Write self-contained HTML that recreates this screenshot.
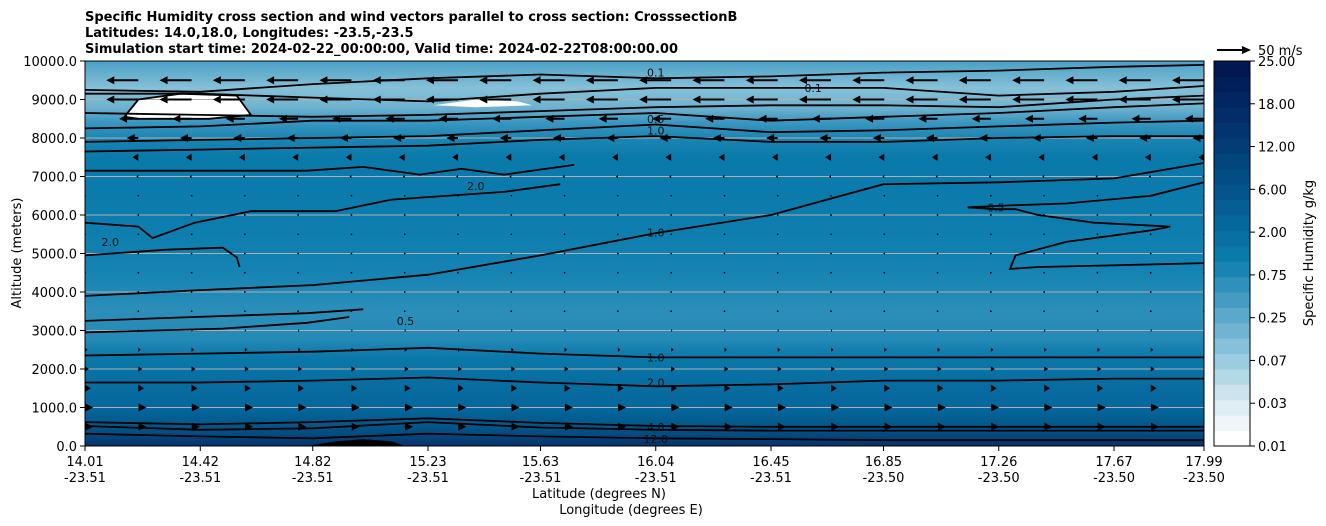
<!DOCTYPE html>
<html><head><meta charset="utf-8"><style>
body{margin:0;background:#fff;}
svg{display:block;font-family:"DejaVu Sans","Liberation Sans",sans-serif;}
</style></head><body>
<svg id="chart" width="1326" height="526" xmlns="http://www.w3.org/2000/svg">
<defs>
<linearGradient id="qfill" x1="0" y1="0" x2="0" y2="1">
<stop offset="0" stop-color="#4aa0c6"/>
<stop offset="0.07" stop-color="#86c0d8"/>
<stop offset="0.12" stop-color="#6fb3d0"/>
<stop offset="0.16" stop-color="#3a96c0"/>
<stop offset="0.20" stop-color="#1a85b3"/>
<stop offset="0.25" stop-color="#0a7aab"/>
<stop offset="0.40" stop-color="#0b7cad"/>
<stop offset="0.55" stop-color="#1583b3"/>
<stop offset="0.65" stop-color="#2c8fba"/>
<stop offset="0.72" stop-color="#258ab6"/>
<stop offset="0.77" stop-color="#0a78aa"/>
<stop offset="0.83" stop-color="#086ea2"/>
<stop offset="0.90" stop-color="#06679c"/>
<stop offset="0.94" stop-color="#045a8d"/>
<stop offset="0.97" stop-color="#034b80"/>
<stop offset="1" stop-color="#08306b"/>
</linearGradient>
<clipPath id="plotclip"><rect x="85" y="61" width="1119" height="385"/></clipPath>
</defs>
<g font-weight="bold" font-size="13">
<text x="85" y="21">Specific Humidity cross section and wind vectors parallel to cross section: CrosssectionB</text>
<text x="85" y="37">Latitudes: 14.0,18.0, Longitudes: -23.5,-23.5</text>
<text x="85" y="53">Simulation start time: 2024-02-22_00:00:00, Valid time: 2024-02-22T08:00:00.00</text>
</g>
<rect x="85" y="61" width="1119" height="385" fill="url(#qfill)"/>
<g clip-path="url(#plotclip)">
<g id="blobs"></g>
<g id="grid"></g>
<g id="contours"></g>
<g id="arrows"></g>
<g id="labels"></g>
</g>
<rect x="85" y="61" width="1119" height="385" fill="none" stroke="#000" stroke-width="1"/>
<g id="axes" font-size="13"></g>
<text x="599" y="498" font-size="13" text-anchor="middle">Latitude (degrees N)</text>
<text x="631" y="514" font-size="13" text-anchor="middle">Longitude (degrees E)</text>
<text transform="translate(21,253) rotate(-90)" font-size="13" text-anchor="middle">Altitude (meters)</text>
<g id="cbar"></g>
<g>
<line x1="1217" y1="50" x2="1244" y2="50" stroke="#000" stroke-width="2"/>
<polygon points="1251,50 1242,46 1242,54" fill="#000"/>
<text x="1258" y="55" font-size="13">50 m/s</text>
</g>
<text transform="translate(1313,253) rotate(-90)" font-size="13" text-anchor="middle">Specific Humidity g/kg</text>
</svg>
<script>
const latTicks=[14.01,14.42,14.82,15.23,15.63,16.04,16.45,16.85,17.26,17.67,17.99];
const lonTicks=["-23.51","-23.51","-23.51","-23.51","-23.51","-23.51","-23.51","-23.50","-23.50","-23.50","-23.50"];
const altTicks=[0,1000,2000,3000,4000,5000,6000,7000,8000,9000,10000];
const cbarTicks=["0.01","0.03","0.07","0.25","0.75","2.00","6.00","12.00","18.00","25.00"];
const cbarColors=["#ffffff","#eef6f9","#dfeef4","#cbe4ee","#b4d9e6","#9ccce0","#86c0d9","#70b4d1","#5aa8ca","#449cc3","#2e90bb","#1884b4","#0a7aab","#0870a3","#06679c","#055e94","#04558c","#034d85","#03457d","#033d76","#02356f","#022d68","#022661","#011f5a","#011852"];
const rowAlts=[500,1000,1500,2000,2500,3000,3500,4000,4500,5000,5500,6000,6500,7000,7500,8000,8500,9000,9500];
const rowU=[13,13,9,6,4,2,1.5,0.5,0.3,0.2,0.2,0,-0.5,-3,-9,-18,-30,-50,-50];
const ncols=22;
const c12=[320,250,200,320,250,200,180,150,150,150,150];
const c8=[520,420,460,620,480,420,400,400,400,400,400];
const c4=[620,560,620,720,600,520,500,500,500,500,500];
const c2=[1650,1650,1700,1780,1650,1550,1600,1700,1700,1750,1750];
const c1low=[2350,2400,2450,2550,2400,2300,2300,2300,2300,2300,2300];
const c1mid=[3900,4050,4180,4450,4950,5530,6000,6800,6850,6950,7350];
const cF=[7650,7700,7750,7800,7950,8050,7900,7900,8000,8050,8050];
const cE=[7900,7950,8000,8050,8200,8350,8150,8200,8300,8400,8450];
const cD=[8250,8300,8450,8450,8550,8650,8450,8550,8650,8800,8900];
const cC=[8650,8600,8550,8600,8700,8800,8850,8850,8800,9000,9100];
const cB=[9150,9150,9050,8950,9150,9300,9300,9300,9100,9200,9350];
const cA=[9250,9200,9400,9550,9650,9550,9600,9700,9750,9850,9900];
const hLats=[14.01,14.2,14.25,14.4,14.6,14.9,15.1,15.5,15.7];
const hAlts=[5800,5700,5400,5800,6100,6100,6400,6600,6800];
const gLats=[14.01,14.4,14.8,15.0,15.2,15.35,15.5,15.75];
const gAlts=[7150,7150,7150,7250,7050,7200,7050,7300];
const iLats=[14.01,14.3,14.5,14.55,14.56];
const iAlts=[4950,5100,5150,4900,4650];
const nLats=[14.01,14.4,14.8,15.0];
const nAlts=[3250,3350,3450,3550];
const oLats=[14.01,14.5,14.8,14.95];
const oAlts=[2950,3050,3200,3350];
const kLats=[17.15,17.3,17.5,17.8,17.99];
const kAlts=[6200,6250,6300,6500,6850];
const lLats=[17.99,17.7,17.4,17.3,17.32,17.5,17.8,17.87];
const lAlts=[4750,4700,4650,4600,4950,5300,5600,5700];
const mLats=[17.87,17.6,17.4,17.32,17.25,17.15];
const mAlts=[5700,5800,6000,6150,6150,6200];
const wLats=[14.15,14.2,14.35,14.55,14.6,14.45,14.2];
const wAlts=[8550,9000,9150,9100,8600,8500,8500];
const w2Lats=[15.25,15.4,15.55,15.6,15.4,15.25];
const w2Alts=[8850,9000,8950,8850,8800,8850];
const bLats=[14.8,14.9,15.0,15.1,15.15];
const bAlts=[0,120,180,120,0];

const NS="http://www.w3.org/2000/svg";
const X=lat=>85+(lat-14.01)/(17.99-14.01)*1119;
const Y=alt=>446-alt*0.0385;
function el(tag,attrs,parent){const e=document.createElementNS(NS,tag);for(const k in attrs)e.setAttribute(k,attrs[k]);parent.appendChild(e);return e;}
function pts(lats,alts){return lats.map((l,i)=>X(l).toFixed(1)+","+Y(alts[i]).toFixed(1)).join(" ");}

const blobs=document.getElementById('blobs');
let b1=el('polygon',{points:pts(wLats,wAlts),fill:'#fff'},blobs);


let b2=el('polygon',{points:pts(w2Lats,w2Alts),fill:'#fff'},blobs);


let b3=el('polygon',{points:pts(bLats,bAlts),fill:'#000'},blobs);



const grid=document.getElementById('grid');
altTicks.slice(1,-1).forEach(a=>{
 const g=el('line',{x1:85,x2:1204,y1:Y(a),y2:Y(a),stroke:'#b0b0b0','stroke-width':1},grid);
 
 
});

const cont=document.getElementById('contours');
const tickLines=[["contour-12",c12],["contour-8",c8],["contour-4",c4],["contour-2",c2],["contour-1-low",c1low],["contour-1-mid",c1mid],["contour-1-upper",cF],["contour-1-top",cE],["contour-0.5-top",cD],["contour-0.1-c",cC],["contour-0.1-b",cB],["contour-0.1-a",cA]];
tickLines.forEach(([n,a])=>{
 const p=el('polyline',{points:pts(latTicks,a),fill:'none',stroke:'#000','stroke-width':1.8},cont);
 
 
});
const freeLines=[["contour-2-upper",gLats,gAlts],["contour-2-bowl",hLats,hAlts],["contour-2-bowl-low",iLats,iAlts],["contour-0.5-left",nLats,nAlts],["contour-0.5-left-low",oLats,oAlts],["contour-0.5-right",kLats,kAlts],["contour-0.5-loop",lLats,lAlts],["contour-0.5-loop-top",mLats,mAlts],["contour-0.1-patch",wLats.concat([wLats[0]]),wAlts.concat([wAlts[0]])]];
freeLines.forEach(([n,la,al])=>{
 const p=el('polyline',{points:pts(la,al),fill:'none',stroke:'#000','stroke-width':1.8},cont);
 
 
});

const arr=document.getElementById('arrows');
rowAlts.forEach((a,r)=>{
 const u=rowU[r];
 for(let c=0;c<ncols;c++){
  const x=85+c*(1119/21), y=Y(a);
  const L=Math.abs(u)*0.64, s=Math.sign(u)||1;
  const g=el('g',{},arr);
  
  
  if(L<1.2){el('circle',{cx:x,cy:y,r:0.9,fill:'#000'},g);continue;}
  const hl=Math.min(8,L), hw=Math.min(4,hl*0.5+0.8);
  const tip=x+s*L, hb=tip-s*hl;
  if(L>hl) el('line',{x1:x,y1:y,x2:hb,y2:y,stroke:'#000','stroke-width':2},g);
  el('polygon',{points:`${tip},${y} ${hb},${y-hw} ${hb},${y+hw}`,fill:'#000'},g);
 }
});

const lab=document.getElementById('labels');
const labTexts=["1.0","2.0","4.0","12.0","1.0","2.0","0.5","0.5","0.1","0.1","0.5","1.0","2.0"];
const labLats=[16.04,16.04,16.04,16.04,16.04,15.4,15.15,17.25,16.04,16.6,16.04,16.04,14.1];
const labAlts=[2300,1650,500,180,5550,6750,3250,6200,9700,9300,8500,8200,5300];
labTexts.forEach((t,i)=>{
 const tx=el('text',{x:X(labLats[i]),y:Y(labAlts[i])+4,'font-size':11,'text-anchor':'middle',fill:'#111'},lab);
 tx.textContent=t;
 
 
});

const ax=document.getElementById('axes');
latTicks.forEach((l,i)=>{
 const x=X(l);
 el('line',{x1:x,x2:x,y1:446,y2:451,stroke:'#000'},ax);
 const t=el('text',{x:x,y:466,'text-anchor':'middle'},ax);t.textContent=l.toFixed(2);
 
 
 const t2=el('text',{x:x,y:482,'text-anchor':'middle'},ax);t2.textContent=lonTicks[i];
 
 
});
altTicks.forEach(a=>{
 const y=Y(a);
 el('line',{x1:80,x2:85,y1:y,y2:y,stroke:'#000'},ax);
 const t=el('text',{x:77,y:y+5,'text-anchor':'end'},ax);t.textContent=a.toFixed(1);
 
 
});

const cb=document.getElementById('cbar');
const cbTop=61,cbH=385,n=cbarColors.length;
cbarColors.forEach((c,i)=>{
 const r=el('rect',{x:1214,y:cbTop+cbH-(i+1)*cbH/n,width:36,height:cbH/n+0.5,fill:c},cb);
 
 
});
el('rect',{x:1214,y:cbTop,width:36,height:cbH,fill:'none',stroke:'#000'},cb);
cbarTicks.forEach((t,i)=>{
 const y=cbTop+cbH-i*cbH/(cbarTicks.length-1);
 el('line',{x1:1250,x2:1255,y1:y,y2:y,stroke:'#000'},cb);
 const tx=el('text',{x:1258,y:y+5,'font-size':13},cb);tx.textContent=t;
 
 
});
</script>
</body></html>
